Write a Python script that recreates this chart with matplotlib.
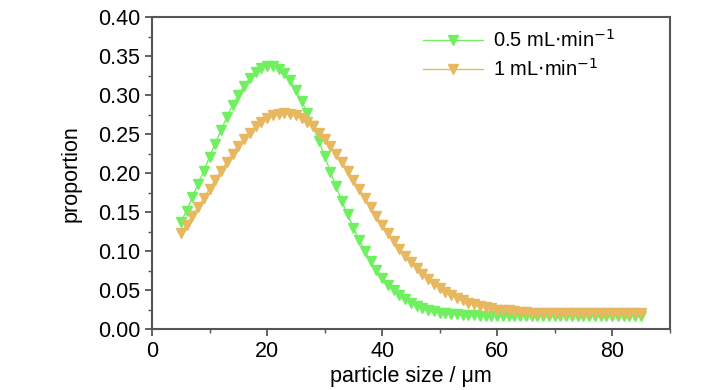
import numpy as np
import matplotlib.pyplot as plt
from matplotlib.ticker import MultipleLocator

plt.rcParams['font.family'] = ['Liberation Sans', 'DejaVu Sans']

# particle size (um), one point per um
size = np.arange(5, 86)

# 0.5 mL/min
p_05 = [0.137, 0.152, 0.169, 0.186, 0.203, 0.221, 0.238, 0.255, 0.272, 0.287,
        0.300, 0.312, 0.322, 0.330, 0.335, 0.338, 0.338, 0.334, 0.328, 0.319,
        0.307, 0.293, 0.277, 0.260, 0.241, 0.222, 0.202, 0.183, 0.164, 0.147,
        0.130, 0.114, 0.100, 0.087, 0.076, 0.066, 0.057, 0.050, 0.043, 0.038,
        0.034, 0.030, 0.027, 0.025, 0.023, 0.021, 0.020, 0.019, 0.019, 0.018,
        0.018, 0.018, 0.017, 0.017, 0.017, 0.017, 0.017, 0.017, 0.017, 0.017,
        0.017, 0.017, 0.017, 0.017, 0.017, 0.017, 0.017, 0.017, 0.017, 0.017,
        0.017, 0.017, 0.017, 0.017, 0.017, 0.017, 0.017, 0.017, 0.017, 0.017,
        0.017]

# 1 mL/min
p_1 = [0.123, 0.134, 0.145, 0.156, 0.168, 0.180, 0.191, 0.203, 0.214, 0.225,
       0.235, 0.244, 0.252, 0.260, 0.266, 0.271, 0.274, 0.276, 0.277, 0.276,
       0.274, 0.271, 0.266, 0.260, 0.252, 0.244, 0.235, 0.225, 0.214, 0.203,
       0.191, 0.180, 0.168, 0.156, 0.145, 0.134, 0.123, 0.113, 0.103, 0.094,
       0.086, 0.078, 0.071, 0.064, 0.058, 0.053, 0.048, 0.044, 0.040, 0.037,
       0.034, 0.032, 0.030, 0.028, 0.027, 0.025, 0.024, 0.024, 0.023, 0.022,
       0.022, 0.021, 0.021, 0.021, 0.021, 0.021, 0.021, 0.021, 0.021, 0.021,
       0.021, 0.021, 0.021, 0.021, 0.021, 0.021, 0.021, 0.021, 0.021, 0.021,
       0.021]

fig = plt.figure(figsize=(7.28, 3.9), dpi=100)
ax = fig.add_axes([0.2088, 0.1564, 0.7112, 0.7992])

ax.plot(size, p_05, color='#70f060', marker='v', markersize=6.5, lw=1.0,
        label='0.5 mL$\\cdot$min$^{-1}$')
ax.plot(size, p_1, color='#e8b860', marker='v', markersize=6.5, lw=1.0,
        label='1 mL$\\cdot$min$^{-1}$')

ax.set_xlim(0, 90)
ax.set_ylim(0, 0.40)
ax.xaxis.set_major_locator(MultipleLocator(20))
ax.xaxis.set_minor_locator(MultipleLocator(10))
ax.yaxis.set_major_locator(MultipleLocator(0.05))
ax.yaxis.set_minor_locator(MultipleLocator(0.025))
ax.yaxis.set_major_formatter(plt.FormatStrFormatter('%.2f'))

for s in ax.spines.values():
    s.set_color('#555555')
    s.set_linewidth(1.5)
ax.tick_params(which='both', direction='out', color='#555555', top=False, right=False,
               labelsize=15.5)
ax.tick_params(which='major', length=5, width=1.3)
ax.tick_params(which='minor', length=3, width=1.0)

ax.set_xlabel('particle size / μm', fontsize=15.5, labelpad=3)
ax.set_ylabel('proportion', fontsize=15.5, labelpad=12)

ax.legend(loc='upper right', frameon=False, fontsize=14.5, numpoints=1,
          handlelength=3.0, handletextpad=0.5, labelspacing=0.35,
          bbox_to_anchor=(0.93, 1.02))

fig.savefig('out.png', dpi=100)
